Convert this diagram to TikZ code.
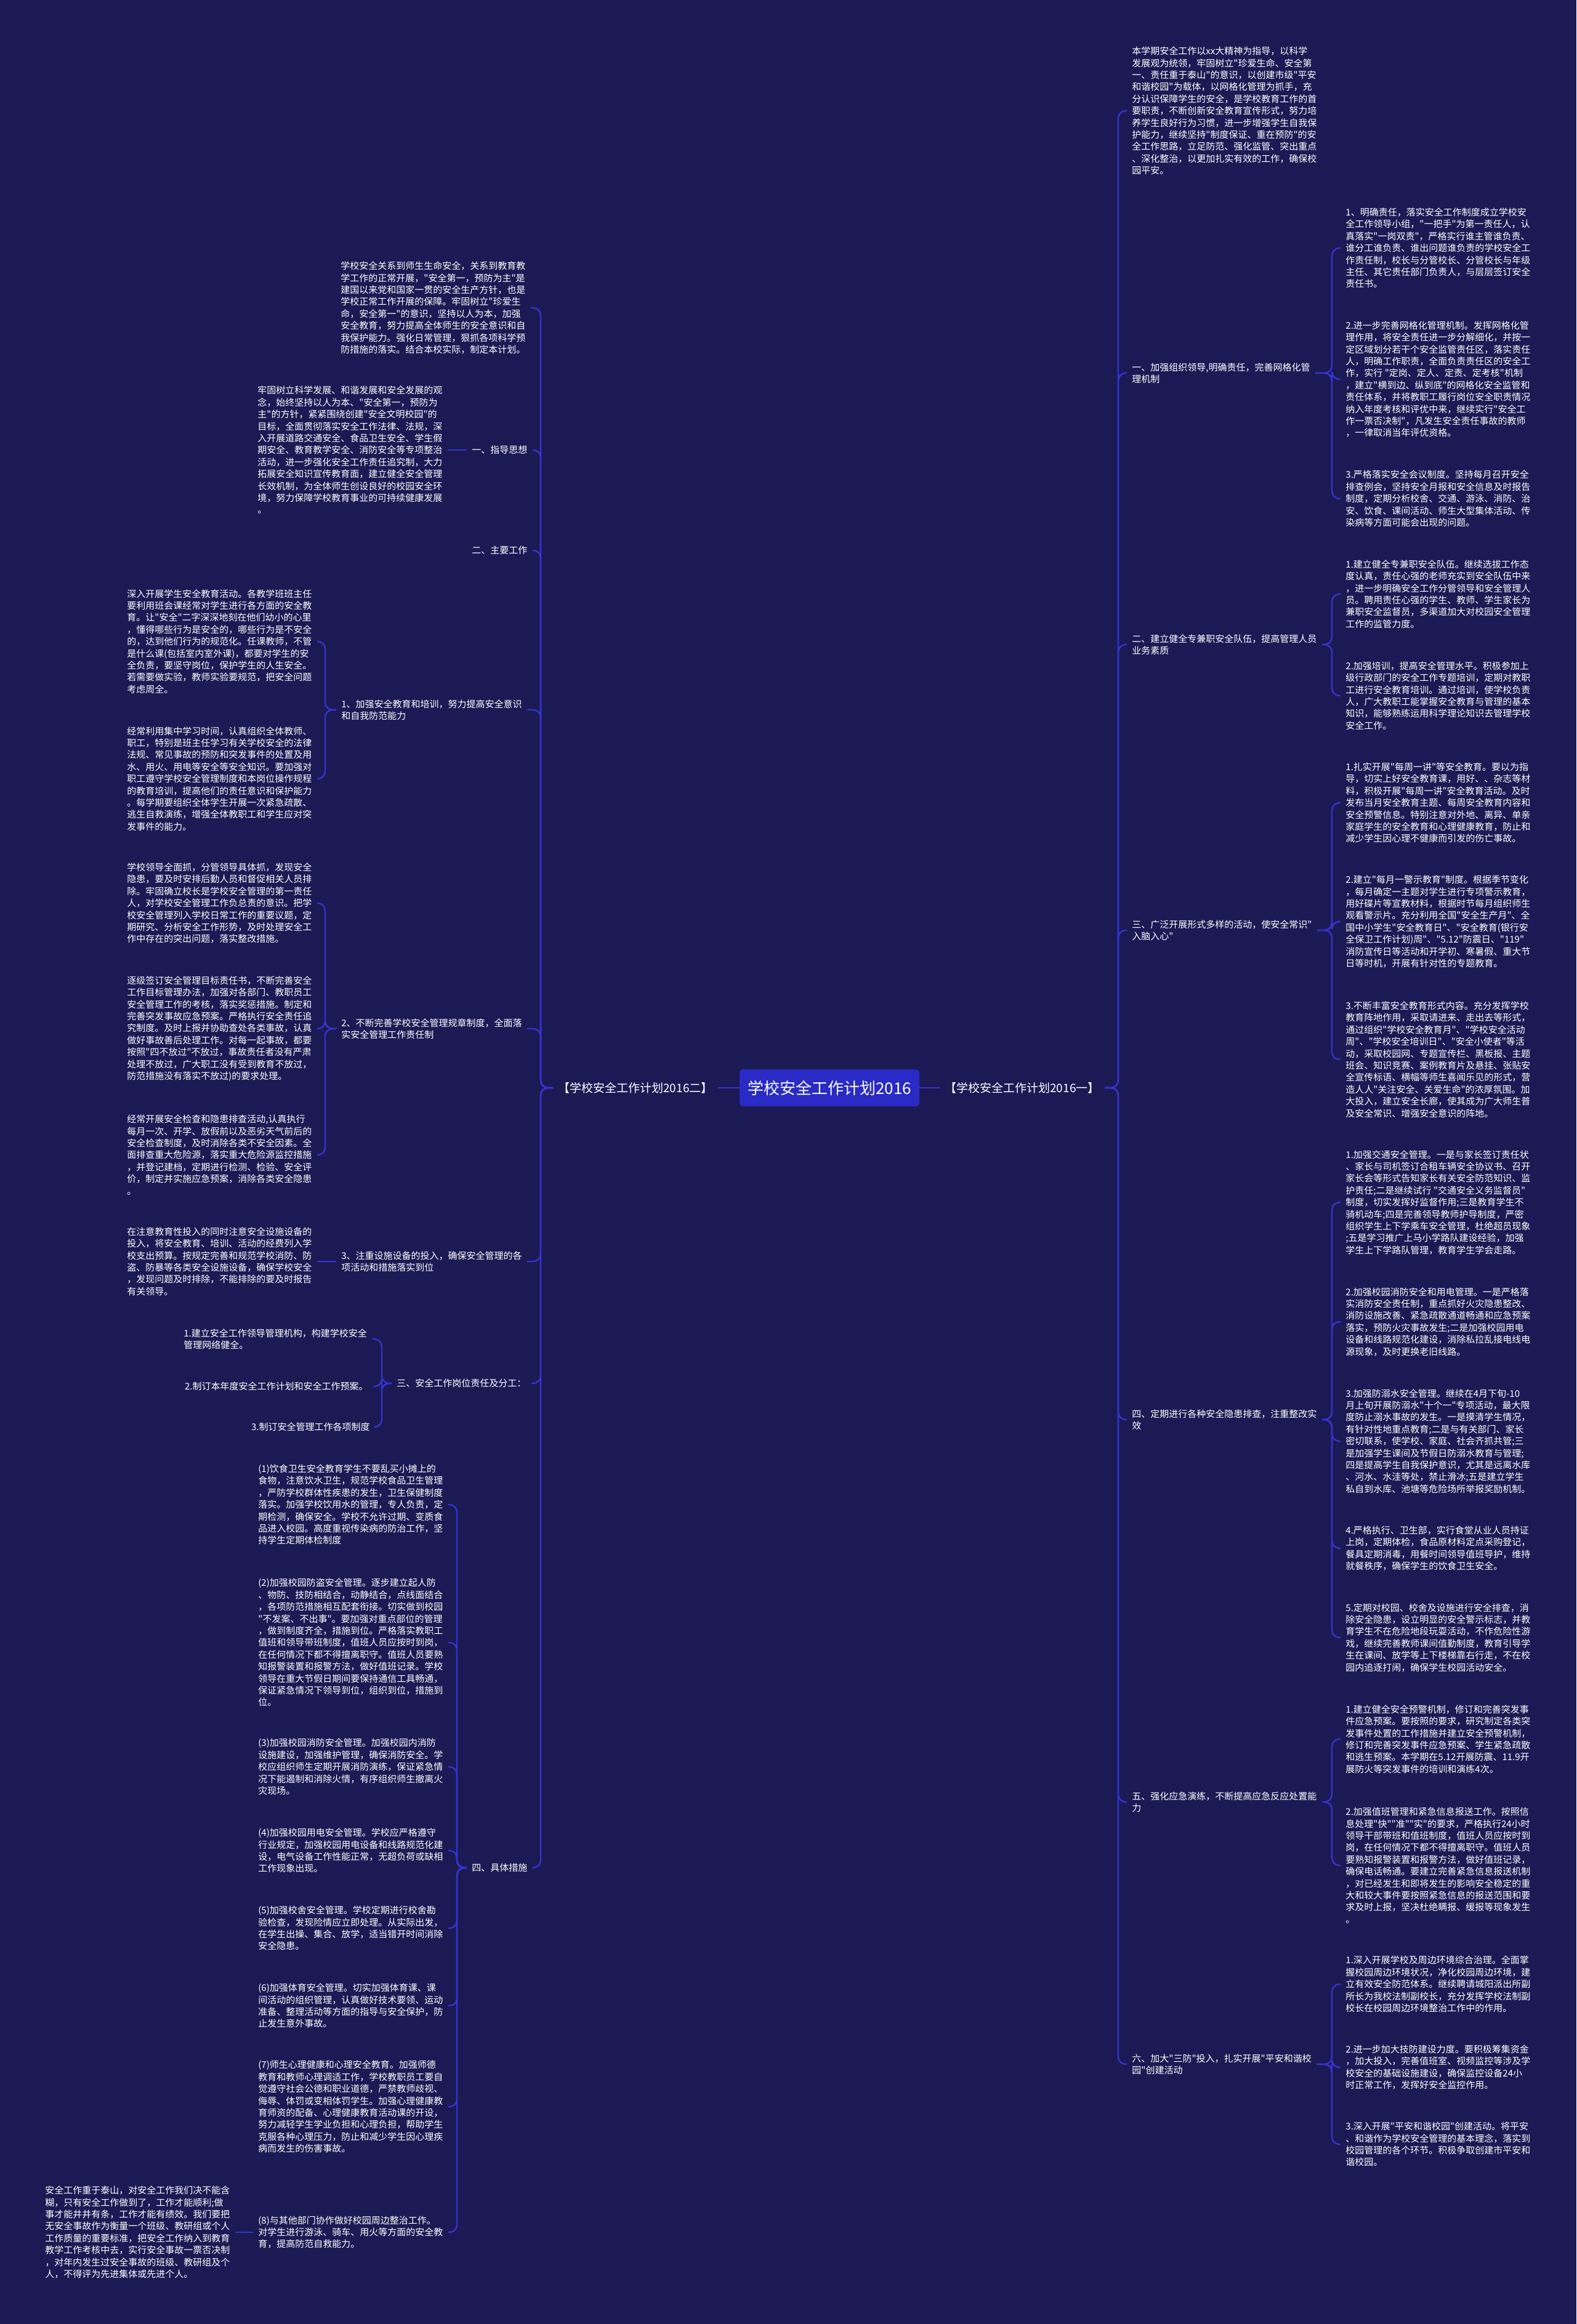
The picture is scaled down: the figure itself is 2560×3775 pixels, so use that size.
\documentclass[tikz,border=0pt]{standalone}
\usepackage{fontspec}
\newfontfamily\cjkf{Noto Sans CJK SC}
\definecolor{bgcol}{HTML}{1B1A54}
\definecolor{linecol}{HTML}{3434D0}
\definecolor{rootcol}{HTML}{2A2AC6}
\tikzset{
  txt/.style={font=\cjkf\fontsize{7.5pt}{9.7pt}\selectfont, text=white, align=left, inner xsep=4pt, inner ysep=2pt},
  rn/.style={txt, anchor=west},
  re/.style={txt, anchor=east},
  lbl/.style={font=\cjkf\fontsize{9.5pt}{11pt}\selectfont, text=white, inner xsep=4pt},
  rootbox/.style={fill=rootcol, rounded corners=3pt, minimum width=146pt, minimum height=30pt, inner sep=0pt, font=\cjkf\fontsize{13pt}{15pt}\selectfont, text=white},
  conn/.style={draw=linecol, line width=1.2pt, rounded corners=6pt}
}
\begin{document}
\begin{tikzpicture}[x=0.5pt,y=-0.5pt]
\fill[bgcol] (0,0) rectangle (2560,3775);
\useasboundingbox (0,0) rectangle (2560,3775);

\coordinate (spR) at (1816,0);
\coordinate (sbR) at (2163,0);
\coordinate (spL) at (878,0);
\coordinate (sbA) at (528,0);
\coordinate (sbB) at (620,0);
\coordinate (sbC) at (742,0);

% root and labels
\node[rootbox] (root) at (1347,1767) {学校安全工作计划2016};
\node[lbl] (LL) at (1032,1767) {【学校安全工作计划2016二】};
\node[lbl] (RL) at (1660,1767) {【学校安全工作计划2016一】};

% ---------------- RIGHT ----------------
\node[rn] (R0) at (1830,180) {本学期安全工作以xx大精神为指导，以科学\\发展观为统领，牢固树立"珍爱生命、安全第\\一、责任重于泰山"的意识，以创建市级"平安\\和谐校园"为载体，以网格化管理为抓手，充\\分认识保障学生的安全，是学校教育工作的首\\要职责，不断创新安全教育宣传形式，努力培\\养学生良好行为习惯，进一步增强学生自我保\\护能力，继续坚持"制度保证、重在预防"的安\\全工作思路，立足防范、强化监管、突出重点\\、深化整治，以更加扎实有效的工作，确保校\\园平安。};

\node[rn] (R1) at (1830,606) {一、加强组织领导,明确责任，完善网格化管\\理机制};
\node[rn] (R1a) at (2177,403) {1、明确责任，落实安全工作制度成立学校安\\全工作领导小组，"一把手"为第一责任人，认\\真落实"一岗双责"，严格实行谁主管谁负责、\\谁分工谁负责、谁出问题谁负责的学校安全工\\作责任制，校长与分管校长、分管校长与年级\\主任、其它责任部门负责人，与层层签订安全\\责任书。};
\node[rn] (R1b) at (2177,616) {2.进一步完善网格化管理机制。发挥网格化管\\理作用，将安全责任进一步分解细化，并按一\\定区域划分若干个安全监管责任区，落实责任\\人，明确工作职责，全面负责责任区的安全工\\作，实行 "定岗、定人、定责、定考核"机制\\，建立"横到边、纵到底"的网格化安全监管和\\责任体系，并将教职工履行岗位安全职责情况\\纳入年度考核和评优中来，继续实行"安全工\\作一票否决制"，凡发生安全责任事故的教师\\，一律取消当年评优资格。};
\node[rn] (R1c) at (2177,810) {3.严格落实安全会议制度。坚持每月召开安全\\排查例会，坚持安全月报和安全信息及时报告\\制度，定期分析校舍、交通、游泳、消防、治\\安、饮食、课间活动、师生大型集体活动、传\\染病等方面可能会出现的问题。};

\node[rn] (R2) at (1830,1047) {二、建立健全专兼职安全队伍，提高管理人员\\业务素质};
\node[rn] (R2a) at (2177,965) {1.建立健全专兼职安全队伍。继续选拔工作态\\度认真，责任心强的老师充实到安全队伍中来\\，进一步明确安全工作分管领导和安全管理人\\员。聘用责任心强的学生、教师、学生家长为\\兼职安全监督员，多渠道加大对校园安全管理\\工作的监管力度。};
\node[rn] (R2b) at (2177,1130) {2.加强培训，提高安全管理水平。积极参加上\\级行政部门的安全工作专题培训，定期对教职\\工进行安全教育培训。通过培训，使学校负责\\人，广大教职工能掌握安全教育与管理的基本\\知识，能够熟练运用科学理论知识去管理学校\\安全工作。};

\node[rn] (R3) at (1830,1511) {三、广泛开展形式多样的活动，使安全常识"\\入脑入心"};
\node[rn] (R3a) at (2177,1304) {1.扎实开展"每周一讲"等安全教育。要以为指\\导，切实上好安全教育课，用好、、杂志等材\\料，积极开展"每周一讲"安全教育活动。及时\\发布当月安全教育主题、每周安全教育内容和\\安全预警信息。特别注意对外地、离异、单亲\\家庭学生的安全教育和心理健康教育，防止和\\减少学生因心理不健康而引发的伤亡事故。};
\node[rn] (R3b) at (2177,1497) {2.建立"每月一警示教育"制度。根据季节变化\\，每月确定一主题对学生进行专项警示教育，\\用好碟片等宣教材料，根据时节每月组织师生\\观看警示片。充分利用全国"安全生产月"、全\\国中小学生"安全教育日"、"安全教育(银行安\\全保卫工作计划)周"、"5.12"防震日、"119"\\消防宣传日等活动和开学初、寒暑假、重大节\\日等时机，开展有针对性的专题教育。};
\node[rn] (R3c) at (2177,1721) {3.不断丰富安全教育形式内容。充分发挥学校\\教育阵地作用，采取请进来、走出去等形式，\\通过组织"学校安全教育月"、"学校安全活动\\周"、"学校安全培训日"、"安全小使者"等活\\动，采取校园网、专题宣传栏、黑板报、主题\\班会、知识竞赛、案例教育片及悬挂、张贴安\\全宣传标语、横幅等师生喜闻乐见的形式，营\\造人人"关注安全、关爱生命"的浓厚氛围。加\\大投入，建立安全长廊，使其成为广大师生普\\及安全常识、增强安全意识的阵地。};

\node[rn] (R4) at (1830,2306) {四、定期进行各种安全隐患排查，注重整改实\\效};
\node[rn] (R4a) at (2177,1953) {1.加强交通安全管理。一是与家长签订责任状\\、家长与司机签订合租车辆安全协议书、召开\\家长会等形式告知家长有关安全防范知识、监\\护责任;二是继续试行 "交通安全义务监督员"\\制度，切实发挥好监督作用;三是教育学生不\\骑机动车;四是完善领导教师护导制度，严密\\组织学生上下学乘车安全管理，杜绝超员现象\\;五是学习推广上马小学路队建设经验，加强\\学生上下学路队管理，教育学生学会走路。};
\node[rn] (R4b) at (2177,2147) {2.加强校园消防安全和用电管理。一是严格落\\实消防安全责任制，重点抓好火灾隐患整改、\\消防设施改善、紧急疏散通道畅通和应急预案\\落实，预防火灾事故发生;二是加强校园用电\\设备和线路规范化建设，消除私拉乱接电线电\\源现象，及时更换老旧线路。};
\node[rn] (R4c) at (2177,2341) {3.加强防溺水安全管理。继续在4月下旬-10\\月上旬开展防溺水"十个一"专项活动，最大限\\度防止溺水事故的发生。一是摸清学生情况，\\有针对性地重点教育;二是与有关部门、家长\\密切联系，使学校、家庭、社会齐抓共管;三\\是加强学生课间及节假日防溺水教育与管理;\\四是提高学生自我保护意识，尤其是远离水库\\、河水、水洼等处，禁止滑冰;五是建立学生\\私自到水库、池塘等危险场所举报奖励机制。};
\node[rn] (R4d) at (2177,2515) {4.严格执行、卫生部，实行食堂从业人员持证\\上岗，定期体检，食品原材料定点采购登记，\\餐具定期消毒，用餐时间领导值班导护，维持\\就餐秩序，确保学生的饮食卫生安全。};
\node[rn] (R4e) at (2177,2660) {5.定期对校园、校舍及设施进行安全排查，消\\除安全隐患，设立明显的安全警示标志，并教\\育学生不在危险地段玩耍活动，不作危险性游\\戏，继续完善教师课间值勤制度，教育引导学\\生在课间、放学等上下楼梯靠右行走，不在校\\园内追逐打闹，确保学生校园活动安全。};

\node[rn] (R5) at (1830,2927) {五、强化应急演练，不断提高应急反应处置能\\力};
\node[rn] (R5a) at (2177,2825) {1.建立健全安全预警机制，修订和完善突发事\\件应急预案。要按照的要求，研究制定各类突\\发事件处置的工作措施并建立安全预警机制，\\修订和完善突发事件应急预案、学生紧急疏散\\和逃生预案。本学期在5.12开展防震、11.9开\\展防火等突发事件的培训和演练4次。};
\node[rn] (R5b) at (2177,3030) {2.加强值班管理和紧急信息报送工作。按照信\\息处理"快""准""实"的要求，严格执行24小时\\领导干部带班和值班制度，值班人员应按时到\\岗，在任何情况下都不得擅离职守。值班人员\\要熟知报警装置和报警方法，做好值班记录，\\确保电话畅通。要建立完善紧急信息报送机制\\，对已经发生和即将发生的影响安全稳定的重\\大和较大事件要按照紧急信息的报送范围和要\\求及时上报，坚决杜绝瞒报、缓报等现象发生\\。};

\node[rn] (R6) at (1830,3353) {六、加大"三防"投入，扎实开展"平安和谐校\\园"创建活动};
\node[rn] (R6a) at (2177,3223) {1.深入开展学校及周边环境综合治理。全面掌\\握校园周边环境状况，净化校园周边环境，建\\立有效安全防范体系。继续聘请城阳派出所副\\所长为我校法制副校长，充分发挥学校法制副\\校长在校园周边环境整治工作中的作用。};
\node[rn] (R6b) at (2177,3358) {2.进一步加大技防建设力度。要积极筹集资金\\，加大投入，完善值班室、视频监控等涉及学\\校安全的基础设施建设，确保监控设备24小\\时正常工作，发挥好安全监控作用。};
\node[rn] (R6c) at (2177,3483) {3.深入开展"平安和谐校园"创建活动。将平安\\、和谐作为学校安全管理的基本理念，落实到\\校园管理的各个环节。积极争取创建市平安和\\谐校园。};

% ---------------- LEFT ----------------
\node[rn] (L0) at (545,500) {学校安全关系到师生生命安全，关系到教育教\\学工作的正常开展，"安全第一，预防为主"是\\建国以来党和国家一贯的安全生产方针，也是\\学校正常工作开展的保障。牢固树立"珍爱生\\命，安全第一"的意识，坚持以人为本，加强\\安全教育，努力提高全体师生的安全意识和自\\我保护能力。强化日常管理，狠抓各项科学预\\防措施的落实。结合本校实际，制定本计划。};

\node[rn] (L1) at (758,731) {一、指导思想};
\node[rn] (L1a) at (410,731) {牢固树立科学发展、和谐发展和安全发展的观\\念，始终坚持以人为本、"安全第一，预防为\\主"的方针，紧紧围绕创建"安全文明校园"的\\目标，全面贯彻落实安全工作法律、法规，深\\入开展道路交通安全、食品卫生安全、学生假\\期安全、教育教学安全、消防安全等专项整治\\活动，进一步强化安全工作责任追究制，大力\\拓展安全知识宣传教育面，建立健全安全管理\\长效机制，为全体师生创设良好的校园安全环\\境，努力保障学校教育事业的可持续健康发展\\。};

\node[rn] (L2) at (758,894) {二、主要工作};

\node[rn] (L3) at (546,1153) {1、加强安全教育和培训，努力提高安全意识\\和自我防范能力};
\node[rn] (L3a) at (198,1042) {深入开展学生安全教育活动。各教学班班主任\\要利用班会课经常对学生进行各方面的安全教\\育。让"安全"二字深深地刻在他们幼小的心里\\，懂得哪些行为是安全的，哪些行为是不安全\\的，达到他们行为的规范化。任课教师，不管\\是什么课(包括室内室外课)，都要对学生的安\\全负责，要坚守岗位，保护学生的人生安全。\\若需要做实验，教师实验要规范，把安全问题\\考虑周全。};
\node[rn] (L3b) at (198,1265) {经常利用集中学习时间，认真组织全体教师、\\职工，特别是班主任学习有关学校安全的法律\\法规、常见事故的预防和突发事件的处置及用\\水、用火、用电等安全等安全知识。要加强对\\职工遵守学校安全管理制度和本岗位操作规程\\的教育培训，提高他们的责任意识和保护能力\\。每学期要组织全体学生开展一次紧急疏散、\\逃生自救演练，增强全体教职工和学生应对突\\发事件的能力。};

\node[rn] (L4) at (546,1671) {2、不断完善学校安全管理规章制度，全面落\\实安全管理工作责任制};
\node[rn] (L4a) at (198,1467) {学校领导全面抓，分管领导具体抓，发现安全\\隐患，要及时安排后勤人员和督促相关人员排\\除。牢固确立校长是学校安全管理的第一责任\\人，对学校安全管理工作负总责的意识。把学\\校安全管理列入学校日常工作的重要议题，定\\期研究、分析安全工作形势，及时处理安全工\\作中存在的突出问题，落实整改措施。};
\node[rn] (L4b) at (198,1671) {逐级签订安全管理目标责任书，不断完善安全\\工作目标管理办法，加强对各部门、教职员工\\安全管理工作的考核，落实奖惩措施。制定和\\完善突发事故应急预案。严格执行安全责任追\\究制度。及时上报并协助查处各类事故，认真\\做好事故善后处理工作。对每一起事故，都要\\按照"四不放过"不放过，事故责任者没有严肃\\处理不放过，广大职工没有受到教育不放过，\\防范措施没有落实不放过)的要求处理。};
\node[rn] (L4c) at (198,1876) {经常开展安全检查和隐患排查活动,认真执行\\每月一次、开学、放假前以及恶劣天气前后的\\安全检查制度，及时消除各类不安全因素。全\\面排查重大危险源，落实重大危险源监控措施\\，并登记建档，定期进行检测、检验、安全评\\价，制定并实施应急预案，消除各类安全隐患\\。};

\node[rn] (L5) at (546,2049) {3、注重设施设备的投入，确保安全管理的各\\项活动和措施落实到位};
\node[rn] (L5a) at (198,2049) {在注意教育性投入的同时注意安全设施设备的\\投入，将安全教育、培训、活动的经费列入学\\校支出预算。按规定完善和规范学校消防、防\\盗、防暴等各类安全设施设备，确保学校安全\\，发现问题及时排除，不能排除的要及时报告\\有关领导。};

\node[rn] (L6) at (636,2247) {三、安全工作岗位责任及分工：};
\node[rn] (L6a) at (290,2175) {1.建立安全工作领导管理机构，构建学校安全\\管理网络健全。};
\node[re] (L6b) at (606,2252) {2.制订本年度安全工作计划和安全工作预案。};
\node[re] (L6c) at (609,2318) {3.制订安全管理工作各项制度};

\node[rn] (L7) at (758,3034) {四、具体措施};
\node[rn] (L7a) at (411,2444) {(1)饮食卫生安全教育学生不要乱买小摊上的\\食物，注意饮水卫生，规范学校食品卫生管理\\，严防学校群体性疾患的发生，卫生保健制度\\落实。加强学校饮用水的管理，专人负责，定\\期检测，确保安全。学校不允许过期、变质食\\品进入校园。高度重视传染病的防治工作，坚\\持学生定期体检制度};
\node[rn] (L7b) at (411,2668) {(2)加强校园防盗安全管理。逐步建立起人防\\、物防、技防相结合，动静结合，点线面结合\\，各项防范措施相互配套衔接。切实做到校园\\"不发案、不出事"。要加强对重点部位的管理\\，做到制度齐全，措施到位。严格落实教职工\\值班和领导带班制度，值班人员应按时到岗，\\在任何情况下都不得擅离职守。值班人员要熟\\知报警装置和报警方法，做好值班记录。学校\\领导在重大节假日期间要保持通信工具畅通，\\保证紧急情况下领导到位，组织到位，措施到\\位。};
\node[rn] (L7c) at (411,2870) {(3)加强校园消防安全管理。加强校园内消防\\设施建设，加强维护管理，确保消防安全。学\\校应组织师生定期开展消防演练，保证紧急情\\况下能遏制和消除火情，有序组织师生撤离火\\灾现场。};
\node[rn] (L7d) at (411,3006) {(4)加强校园用电安全管理。学校应严格遵守\\行业规定，加强校园用电设备和线路规范化建\\设，电气设备工作性能正常，无超负荷或缺相\\工作现象出现。};
\node[rn] (L7e) at (411,3132) {(5)加强校舍安全管理。学校定期进行校舍勘\\验检查，发现险情应立即处理。从实际出发，\\在学生出操、集合、放学，适当错开时间消除\\安全隐患。};
\node[rn] (L7f) at (411,3258) {(6)加强体育安全管理。切实加强体育课、课\\间活动的组织管理，认真做好技术要领、运动\\准备、整理活动等方面的指导与安全保护，防\\止发生意外事故。};
\node[rn] (L7g) at (411,3422) {(7)师生心理健康和心理安全教育。加强师德\\教育和教师心理调适工作，学校教职员工要自\\觉遵守社会公德和职业道德，严禁教师歧视、\\侮辱、体罚或变相体罚学生。加强心理健康教\\育师资的配备、心理健康教育活动课的开设，\\努力减轻学生学业负担和心理负担，帮助学生\\克服各种心理压力，防止和减少学生因心理疾\\病而发生的伤害事故。};
\node[rn] (L7h) at (411,3626) {(8)与其他部门协作做好校园周边整治工作。\\对学生进行游泳、骑车、用火等方面的安全教\\育，提高防范自救能力。};
\node[rn] (L8) at (65,3626) {安全工作重于泰山，对安全工作我们决不能含\\糊，只有安全工作做到了，工作才能顺利;做\\事才能井井有条，工作才能有绩效。我们要把\\无安全事故作为衡量一个班级、教研组或个人\\工作质量的重要标准，把安全工作纳入到教育\\教学工作考核中去，实行安全事故一票否决制\\，对年内发生过安全事故的班级、教研组及个\\人，不得评为先进集体或先进个人。};

% ---------------- CONNECTORS ----------------
\draw[conn] (root.west) -- (LL.east);
\draw[conn] (root.east) -- (RL.west);

\foreach \c in {R0,R1,R2,R3,R4,R5,R6}
  \draw[conn] (RL.east) -- (RL.east -| spR) |- (\c.west);
\foreach \c in {R1a,R1b,R1c} \draw[conn] (R1.east) -- (R1.east -| sbR) |- (\c.west);
\foreach \c in {R2a,R2b} \draw[conn] (R2.east) -- (R2.east -| sbR) |- (\c.west);
\foreach \c in {R3a,R3b,R3c} \draw[conn] (R3.east) -- (R3.east -| sbR) |- (\c.west);
\foreach \c in {R4a,R4b,R4c,R4d,R4e} \draw[conn] (R4.east) -- (R4.east -| sbR) |- (\c.west);
\foreach \c in {R5a,R5b} \draw[conn] (R5.east) -- (R5.east -| sbR) |- (\c.west);
\foreach \c in {R6a,R6b,R6c} \draw[conn] (R6.east) -- (R6.east -| sbR) |- (\c.west);

\foreach \c in {L0,L1,L2,L3,L4,L5,L6,L7}
  \draw[conn] (LL.west) -- (LL.west -| spL) |- (\c.east);
\draw[conn] (L1.west) -- (L1a.east);
\foreach \c in {L3a,L3b} \draw[conn] (L3.west) -- (L3.west -| sbA) |- (\c.east);
\foreach \c in {L4a,L4b,L4c} \draw[conn] (L4.west) -- (L4.west -| sbA) |- (\c.east);
\draw[conn] (L5.west) -- (L5a.east);
\foreach \c in {L6a,L6b,L6c} \draw[conn] (L6.west) -- (L6.west -| sbB) |- (\c.east);
\foreach \c in {L7a,L7b,L7c,L7d,L7e,L7f,L7g,L7h} \draw[conn] (L7.west) -- (L7.west -| sbC) |- (\c.east);
\draw[conn] (L7h.west) -- (L8.east);
\end{tikzpicture}
\end{document}
